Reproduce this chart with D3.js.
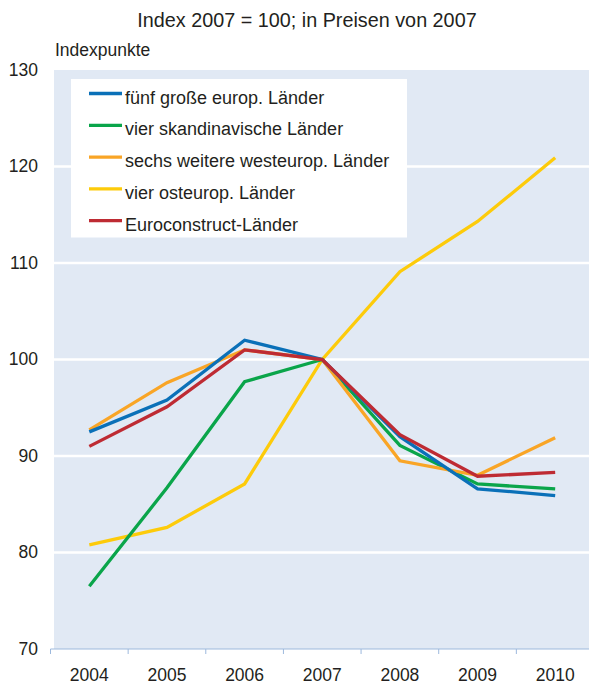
<!DOCTYPE html>
<html><head><meta charset="utf-8">
<script src="https://cdn.jsdelivr.net/npm/d3@7"></script>
<style>body{margin:0;background:#fff;} svg{display:block;font-family:"Liberation Sans",Arial,sans-serif;}</style>
</head><body>
<svg id="c" width="589" height="684"></svg>
<script>
const years = ["2004","2005","2006","2007","2008","2009","2010"];
const seriesNames = ["fünf große europ. Länder","vier skandinavische Länder","sechs weitere westeurop. Länder","vier osteurop. Länder","Euroconstruct-Länder"];
const fuenfGross   = [92.5, 95.8, 102.0, 100, 92.0, 86.6, 85.9];
const skandinavien = [76.5, 86.7, 97.7, 100, 91.1, 87.1, 86.6];
const westeuropa   = [92.7, 97.6, 101.0, 100, 89.5, 88.0, 91.9];
const osteuropa    = [80.8, 82.6, 87.1, 100, 109.1, 114.3, 120.9];
const euroconstruct= [91.0, 95.1, 101.0, 100, 92.2, 87.9, 88.3];
const yTicks = [70,80,90,100,110,120,130];
const colors = ["#0a70b8","#0aa54a","#f9a526","#fdcb0a","#be2b33"];
const allSeries = [fuenfGross, skandinavien, westeuropa, osteuropa, euroconstruct];

const svg = d3.select("#c");
const x = d3.scaleBand().domain(years).range([50.5, 594]);
const y = d3.scaleLinear().domain([70,130]).range([649,70]);

// background
svg.append("rect").attr("x",54).attr("y",y(130)).attr("width",589-54).attr("height",y(70)-y(130)).attr("fill","#e1e9f4");

// gridlines
svg.append("g").selectAll("line").data(yTicks.filter(d=>d>70&&d<130)).join("line")
  .attr("x1",54).attr("x2",589).attr("y1",d=>y(d)).attr("y2",d=>y(d))
  .attr("stroke","#fff").attr("stroke-width",2.5);

// y labels
svg.append("g").selectAll("text").data(yTicks).join("text")
  .attr("x",38).attr("y",d=>y(d)+5.5).attr("text-anchor","end")
  .attr("font-size",17.5).attr("fill","#231f20").text(d=>d);

// x axis
const xAxisG = svg.append("g").attr("transform","translate(0,649)");
xAxisG.append("line").attr("x1",50.5).attr("x2",589).attr("y1",0).attr("y2",0).attr("stroke","#9db9dd").attr("stroke-width",1);
xAxisG.selectAll("line.t").data(years).join("line").attr("class","t")
  .attr("x1",d=>x(d)).attr("x2",d=>x(d)).attr("y1",0).attr("y2",5).attr("stroke","#9db9dd");
xAxisG.selectAll("text").data(years).join("text")
  .attr("x",d=>x(d)+x.bandwidth()/2).attr("y",31.5).attr("text-anchor","middle")
  .attr("font-size",17.5).attr("fill","#231f20").text(d=>d);

// legend box
svg.append("rect").attr("x",71).attr("y",79).attr("width",336).attr("height",158.5).attr("fill","#fff");

// lines
const line = d3.line().x((d,i)=>x(years[i])+x.bandwidth()/2).y(d=>y(d));
const drawOrder = [3,1,2,0,4];
drawOrder.forEach(i=>{
  svg.append("path").datum(allSeries[i]).attr("d",line).attr("fill","none")
    .attr("stroke",colors[i]).attr("stroke-width",3.3).attr("stroke-linejoin","miter");
});

// legend
const lg = svg.append("g");
seriesNames.forEach((n,i)=>{
  const yy = 93.5 + i*31.8;
  lg.append("line").attr("x1",89).attr("x2",122).attr("y1",yy).attr("y2",yy).attr("stroke",colors[i]).attr("stroke-width",3.3);
  lg.append("text").attr("x",125).attr("y",yy+10).attr("font-size",18).attr("fill","#231f20").text(n);
});

// title
svg.append("text").attr("x",307).attr("y",27).attr("text-anchor","middle").attr("font-size",19.8).attr("fill","#231f20").text("Index 2007 = 100; in Preisen von 2007");
svg.append("text").attr("x",55).attr("y",56).attr("font-size",17.5).attr("fill","#231f20").text("Indexpunkte");
</script>
</body></html>
